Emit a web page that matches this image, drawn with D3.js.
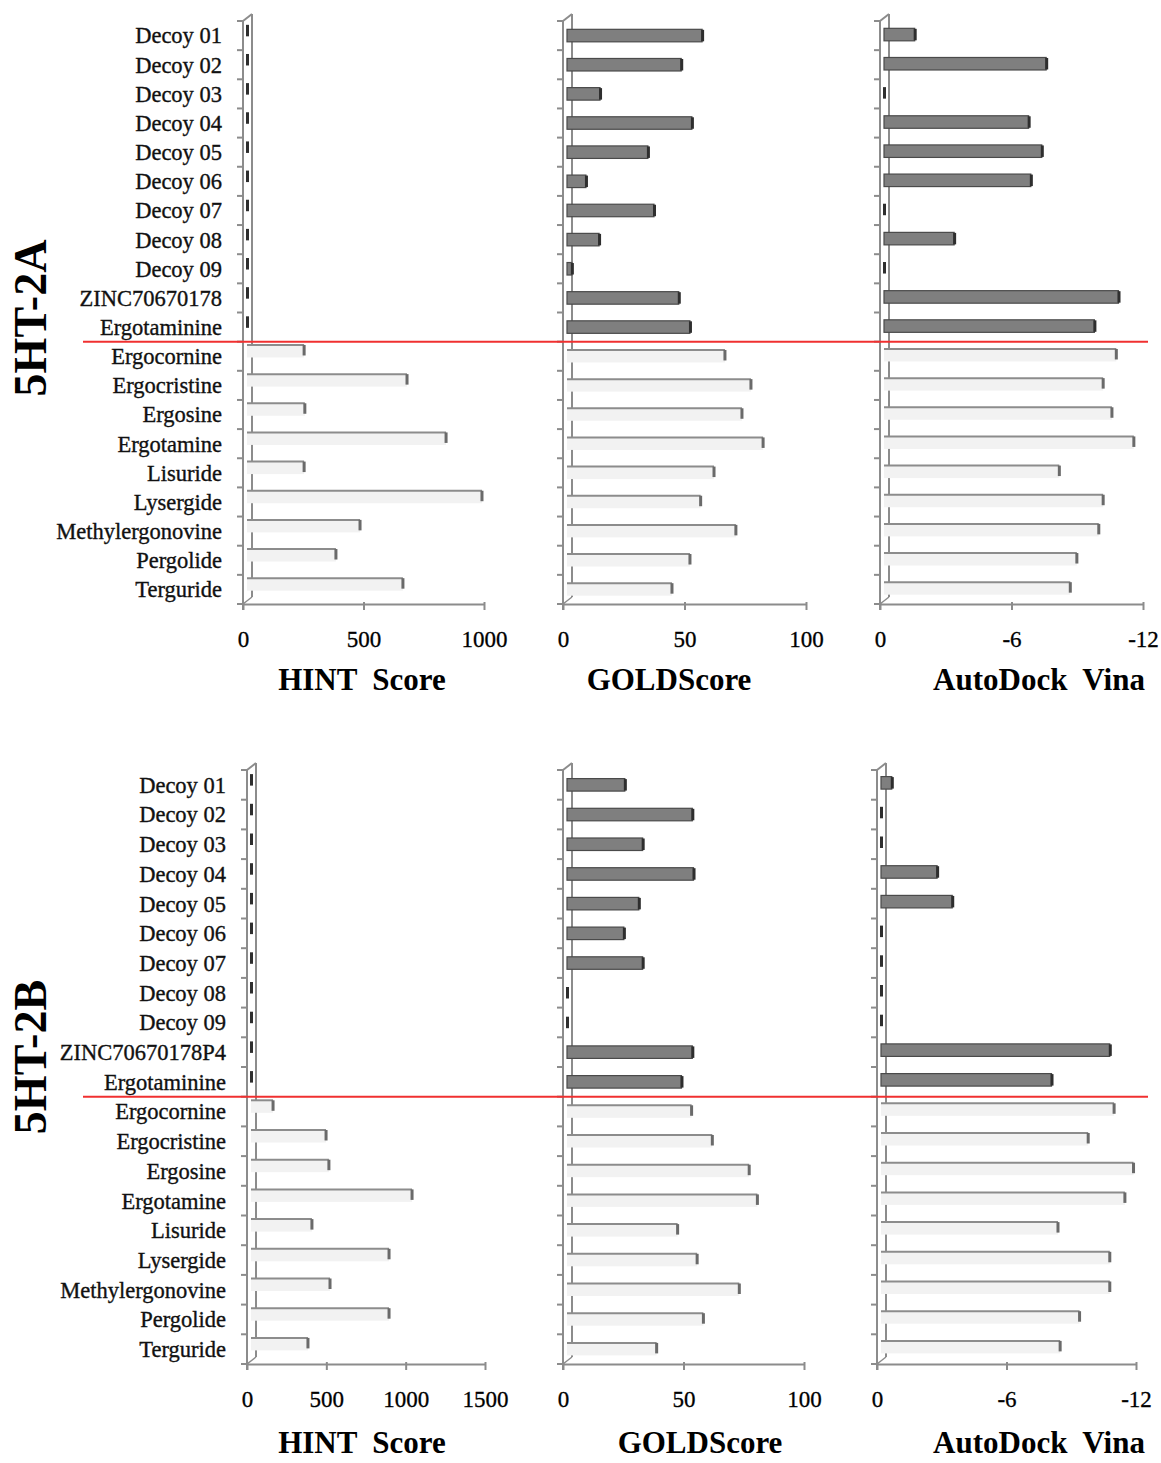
<!DOCTYPE html>
<html>
<head>
<meta charset="utf-8">
<script src="https://cdn.jsdelivr.net/npm/d3@7"></script>
<style>
  html, body { margin: 0; padding: 0; background: #fff; }
  svg { display: block; }
</style>
</head>
<body>
<svg id="chart" width="1161" height="1463"></svg>
<script>
// Compounds docked against each receptor (decoys + query compounds first, reference ergolines after)
const categoriesA = ["Decoy 01", "Decoy 02", "Decoy 03", "Decoy 04", "Decoy 05", "Decoy 06",
  "Decoy 07", "Decoy 08", "Decoy 09", "ZINC70670178", "Ergotaminine",
  "Ergocornine", "Ergocristine", "Ergosine", "Ergotamine", "Lisuride", "Lysergide",
  "Methylergonovine", "Pergolide", "Terguride"];
const categoriesB = ["Decoy 01", "Decoy 02", "Decoy 03", "Decoy 04", "Decoy 05", "Decoy 06",
  "Decoy 07", "Decoy 08", "Decoy 09", "ZINC70670178P4", "Ergotaminine",
  "Ergocornine", "Ergocristine", "Ergosine", "Ergotamine", "Lisuride", "Lysergide",
  "Methylergonovine", "Pergolide", "Terguride"];
// number of leading compounds drawn as dark bars (above the red separator)
const testedCount = 11;

// 5HT-2A scores
const hintA = [0, 0, 0, 0, 0, 0, 0, 0, 0, 0, 0,
  237, 664, 240, 826, 237, 975, 469, 369, 647];
const goldA = [55.6, 47, 13.6, 51.4, 33.3, 7.8, 35.8, 13.2, 2, 46, 50.6,
  65, 75.7, 72, 80.7, 60.5, 55, 69.5, 50.6, 43.2];
const vinaA = [-1.4, -7.4, 0, -6.6, -7.2, -6.7, 0, -3.2, 0, -10.7, -9.6,
  -10.6, -10.0, -10.4, -11.4, -8.0, -10.0, -9.8, -8.8, -8.5];

// 5HT-2B scores
const hintB = [0, 0, 0, 0, 0, 0, 0, 0, 0, 0, 0,
  139, 473, 491, 1015, 384, 870, 498, 870, 359];
const goldB = [24, 52, 31.4, 52.5, 29.8, 23.6, 31.4, 0, 0, 52, 47.5,
  51.7, 60.3, 75.6, 79, 45.9, 54, 71.5, 56.6, 37.2];
const vinaB = [-0.5, 0, 0, -2.6, -3.3, 0, 0, 0, 0, -10.6, -7.9,
  -10.8, -9.6, -11.7, -11.3, -8.2, -10.6, -10.6, -9.2, -8.3];

// Axis ticks
const hintTicksA = [0, 500, 1000];
const hintTicksB = [0, 500, 1000, 1500];
const goldTicks = [0, 50, 100];
const vinaTicks = [0, -6, -12];

const hintDomainA = [0, 1000], hintDomainB = [0, 1500];
const goldDomain = [0, 100], vinaDomain = [0, -12];

// ---- layout ----
const SERIF = "'Liberation Serif', 'Times New Roman', serif";
const LINE = "#8c8c8c";

const blocks = [
  { receptor: "5HT-2A", cats: categoriesA, top: 21, base: 604, sideY: 318, titleY: 690,
    charts: [
      { values: hintA, domain: hintDomainA, ticks: hintTicksA, x0: 243, x1: 484, title: "HINT Score", titleX: 362, shift: -5, labels: true },
      { values: goldA, domain: goldDomain, ticks: goldTicks, x0: 563, x1: 806, title: "GOLDScore", titleX: 669, shift: 0 },
      { values: vinaA, domain: vinaDomain, ticks: vinaTicks, x0: 880, x1: 1143, title: "AutoDock Vina", titleX: 1039, shift: -1 }
    ] },
  { receptor: "5HT-2B", cats: categoriesB, top: 770, base: 1364, sideY: 1057, titleY: 1453,
    charts: [
      { values: hintB, domain: hintDomainB, ticks: hintTicksB, x0: 247, x1: 485, title: "HINT Score", titleX: 362, shift: -5, labels: true },
      { values: goldB, domain: goldDomain, ticks: goldTicks, x0: 563, x1: 804, title: "GOLDScore", titleX: 700, shift: 0 },
      { values: vinaB, domain: vinaDomain, ticks: vinaTicks, x0: 877, x1: 1136, title: "AutoDock Vina", titleX: 1039, shift: -2 }
    ] }
];

const svg = d3.select("#chart");
const DX = 9, DY = 7;     // depth offset of the 3-D wall / floor
const BAR_H = 12.5;

blocks.forEach(block => {
  const y = d3.scaleBand().domain(block.cats).range([block.top, block.base]).padding(0);

  block.charts.forEach(c => {
    const x = d3.scaleLinear().domain(c.domain).range([c.x0, c.x1]);
    const g = svg.append("g");
    const x0 = x(0);

    // side wall (seen edge-on) and floor corner
    g.append("line").attr("x1", x0 + DX).attr("y1", block.top - DY)
      .attr("x2", x0 + DX).attr("y2", block.base - DY)
      .attr("stroke", LINE).attr("stroke-width", 2);
    g.append("line").attr("x1", x0).attr("y1", block.top)
      .attr("x2", x0).attr("y2", block.base + 6)
      .attr("stroke", LINE).attr("stroke-width", 2);
    g.append("line").attr("x1", x0).attr("y1", block.top)
      .attr("x2", x0 + DX).attr("y2", block.top - DY)
      .attr("stroke", LINE).attr("stroke-width", 2);
    g.append("line").attr("x1", x0).attr("y1", block.base)
      .attr("x2", x0 + DX).attr("y2", block.base - DY)
      .attr("stroke", LINE).attr("stroke-width", 1.5);

    // category boundary ticks
    const bounds = block.cats.map(d => y(d)).concat([block.base]);
    g.selectAll("line.ctick").data(bounds).join("line")
      .attr("class", "ctick")
      .attr("x1", x0 - 6).attr("x2", x0)
      .attr("y1", d => d).attr("y2", d => d)
      .attr("stroke", LINE).attr("stroke-width", 2);

    // bars
    const rows = block.cats.map((name, i) => ({ name, v: c.values[i], tested: i < testedCount }));
    const by = d => y(d.name) + y.bandwidth() / 2 - BAR_H / 2 + c.shift;
    const left = x0 + 4;
    const right = d => x(d.v) + 4;

    const dark = rows.filter(d => d.tested);
    const light = rows.filter(d => !d.tested);

    g.selectAll("rect.dbody").data(dark.filter(d => right(d) - left > 1)).join("rect")
      .attr("class", "dbody")
      .attr("x", left).attr("y", by)
      .attr("width", d => right(d) - left).attr("height", BAR_H)
      .attr("fill", "#7f7f7f").attr("stroke", "#4a4a4a").attr("stroke-width", 1.2);
    g.selectAll("rect.dcap").data(dark).join("rect")
      .attr("class", "dcap")
      .attr("x", d => right(d) - 1).attr("y", d => by(d) + 0.5)
      .attr("width", 3).attr("height", BAR_H - 1)
      .attr("fill", "#2e2e2e");

    g.selectAll("rect.lbody").data(light).join("rect")
      .attr("class", "lbody")
      .attr("x", left).attr("y", by)
      .attr("width", d => right(d) - left).attr("height", BAR_H)
      .attr("fill", "#f2f2f2");
    g.selectAll("line.ltop").data(light).join("line")
      .attr("class", "ltop")
      .attr("x1", left).attr("x2", right)
      .attr("y1", by).attr("y2", by)
      .attr("stroke", LINE).attr("stroke-width", 2);
    g.selectAll("rect.lcap").data(light).join("rect")
      .attr("class", "lcap")
      .attr("x", d => right(d) - 1.5).attr("y", by)
      .attr("width", 3).attr("height", BAR_H - 2)
      .attr("fill", "#6a6a6a");

    // value axis
    const ax = g.append("g").attr("transform", `translate(0,${block.base})`)
      .call(d3.axisBottom(x).tickValues(c.ticks).tickSize(6).tickSizeOuter(0)
        .tickFormat(d => String(d)));
    ax.select(".domain").attr("stroke", LINE).attr("stroke-width", 2);
    ax.selectAll(".tick line").attr("stroke", LINE).attr("stroke-width", 2).attr("y1", -2);
    ax.selectAll(".tick text")
      .attr("y", 43).attr("dy", 0)
      .attr("font-family", SERIF).attr("font-size", 23).attr("fill", "#000")
      .attr("stroke", "#000").attr("stroke-width", 0.3);

    // axis title
    g.append("text").attr("x", c.titleX).attr("y", block.titleY)
      .attr("text-anchor", "middle")
      .attr("font-family", SERIF).attr("font-size", 31).attr("font-weight", "bold")
      .attr("fill", "#000").attr("xml:space", "preserve")
      .text(c.title.replace(" ", "  "));

    // compound names next to the first chart of each row
    if (c.labels) {
      g.selectAll("text.cat").data(block.cats).join("text")
        .attr("class", "cat")
        .attr("x", x0 - 21)
        .attr("y", d => y(d) + y.bandwidth() / 2)
        .attr("dy", "0.35em")
        .attr("text-anchor", "end")
        .attr("font-family", SERIF).attr("font-size", 22.5)
        .attr("fill", "#111").attr("stroke", "#111").attr("stroke-width", 0.35)
        .text(d => d);
    }
  });

  // separator between tested compounds and reference ergolines
  const sepY = y(block.cats[testedCount]);
  svg.append("line").attr("x1", 83).attr("x2", 1148)
    .attr("y1", sepY).attr("y2", sepY)
    .attr("stroke", "#f03030").attr("stroke-width", 2);

  // receptor label
  svg.append("text")
    .attr("transform", `translate(46,${block.sideY}) rotate(-90)`)
    .attr("text-anchor", "middle")
    .attr("font-family", SERIF).attr("font-size", 46).attr("font-weight", "bold")
    .attr("fill", "#000")
    .text(block.receptor);
});
</script>
</body>
</html>
